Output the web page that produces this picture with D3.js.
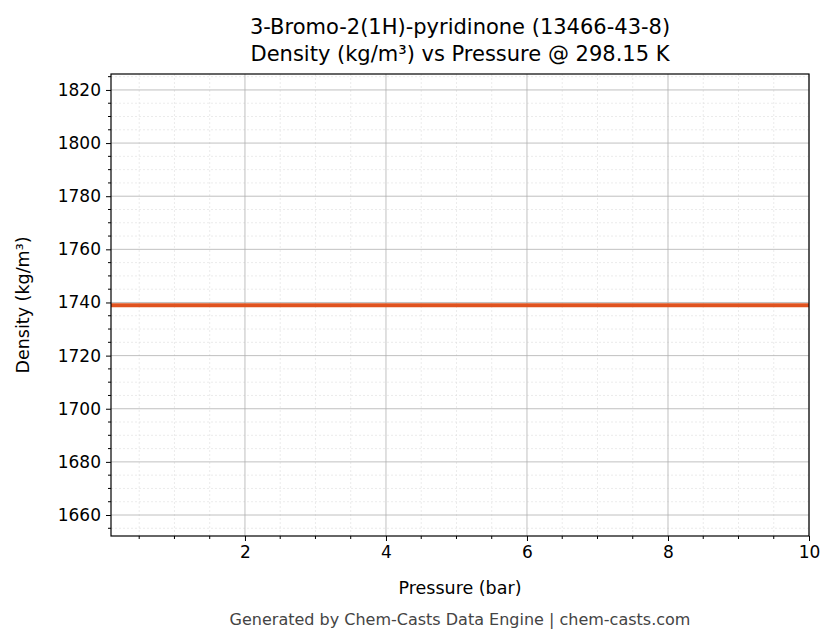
<!DOCTYPE html>
<html><head><meta charset="utf-8">
<script src="https://cdn.jsdelivr.net/npm/d3@7"></script>
<style>body{margin:0;background:#fff;font-family:"DejaVu Sans",sans-serif}</style>
</head><body>
<script>
const pressure = [0.1, 1, 2, 3, 4, 5, 6, 7, 8, 9, 10];
const density = [1739, 1739, 1739, 1739, 1739, 1739, 1739, 1739, 1739, 1739, 1739];
const xTicks = [2, 4, 6, 8, 10];
const yTicks = [1660, 1680, 1700, 1720, 1740, 1760, 1780, 1800, 1820];

const W = 836, H = 644, m = {l: 111, r: 27, t: 74, b: 108};
const svg = d3.select('body').append('svg').attr('width', W).attr('height', H);
const x = d3.scaleLinear().domain([0.1, 10]).range([m.l, W - m.r]);
const y = d3.scaleLinear().domain([1652.1, 1826]).range([H - m.b, m.t]);

// minor grid
const xMinor = d3.range(0.5, 10, 0.5).filter(v => v % 2 !== 0);
const yMinor = d3.range(1655, 1826, 5).filter(v => v % 20 !== 0);
const g = svg.append('g');
g.selectAll('.xm').data(xMinor).join('line')
  .attr('x1', d => x(d)).attr('x2', d => x(d)).attr('y1', m.t).attr('y2', H - m.b)
  .attr('stroke', '#ddd').attr('stroke-width', 0.6).attr('stroke-dasharray', '2,2');
g.selectAll('.ym').data(yMinor).join('line')
  .attr('y1', d => y(d)).attr('y2', d => y(d)).attr('x1', m.l).attr('x2', W - m.r)
  .attr('stroke', '#ddd').attr('stroke-width', 0.6).attr('stroke-dasharray', '2,2');
// major grid
g.selectAll('.xg').data(xTicks).join('line')
  .attr('x1', d => x(d)).attr('x2', d => x(d)).attr('y1', m.t).attr('y2', H - m.b)
  .attr('stroke', '#b0b0b0').attr('stroke-width', 0.8);
g.selectAll('.yg').data(yTicks).join('line')
  .attr('y1', d => y(d)).attr('y2', d => y(d)).attr('x1', m.l).attr('x2', W - m.r)
  .attr('stroke', '#b0b0b0').attr('stroke-width', 0.8);

// data line
svg.append('path').datum(pressure.map((p, i) => [p, density[i]]))
  .attr('fill', 'none').attr('stroke', '#e0531f').attr('stroke-width', 4)
  .attr('d', d3.line().x(d => x(d[0])).y(d => y(d[1])));

// axes
const fs = '17px';
const xa = svg.append('g').attr('transform', `translate(0,${H - m.b})`)
  .call(d3.axisBottom(x).tickValues(xTicks).tickFormat(d3.format('d')).tickSize(5).tickPadding(5).tickSizeOuter(0));
xa.append('g').selectAll('line').data(xMinor).join('line')
  .attr('x1', d => x(d)).attr('x2', d => x(d)).attr('y2', 3).attr('stroke', '#000');
const ya = svg.append('g').attr('transform', `translate(${m.l},0)`)
  .call(d3.axisLeft(y).tickValues(yTicks).tickFormat(d3.format('d')).tickSize(5).tickPadding(5).tickSizeOuter(0));
ya.append('g').selectAll('line').data(yMinor).join('line')
  .attr('y1', d => y(d)).attr('y2', d => y(d)).attr('x2', -3).attr('stroke', '#000');
[xa, ya].forEach(a => {
  a.selectAll('text').style('font-size', fs).style('font-family', 'DejaVu Sans').attr('fill', '#000');
  a.select('.domain').remove();
});
svg.append('rect').attr('x', m.l).attr('y', m.t).attr('width', W - m.l - m.r).attr('height', H - m.t - m.b)
  .attr('fill', 'none').attr('stroke', '#000').attr('stroke-width', 1.2);

// labels
const t = (txt, xx, yy, size, col, rot) => {
  const e = svg.append('text').attr('x', xx).attr('y', yy).attr('text-anchor', 'middle')
    .style('font-size', size).attr('fill', col || '#000').text(txt);
  if (rot) e.attr('transform', `rotate(-90,${xx},${yy})`);
};
t('3-Bromo-2(1H)-pyridinone (13466-43-8)', 460, 34, '21px');
t('Density (kg/m³) vs Pressure @ 298.15 K', 460, 61, '21px');
t('Pressure (bar)', 460, 594, '17.5px');
t('Density (kg/m³)', 29, 305, '17.5px', null, true);
t('Generated by Chem-Casts Data Engine | chem-casts.com', 460, 625, '16px', '#444');
</script>
</body></html>
